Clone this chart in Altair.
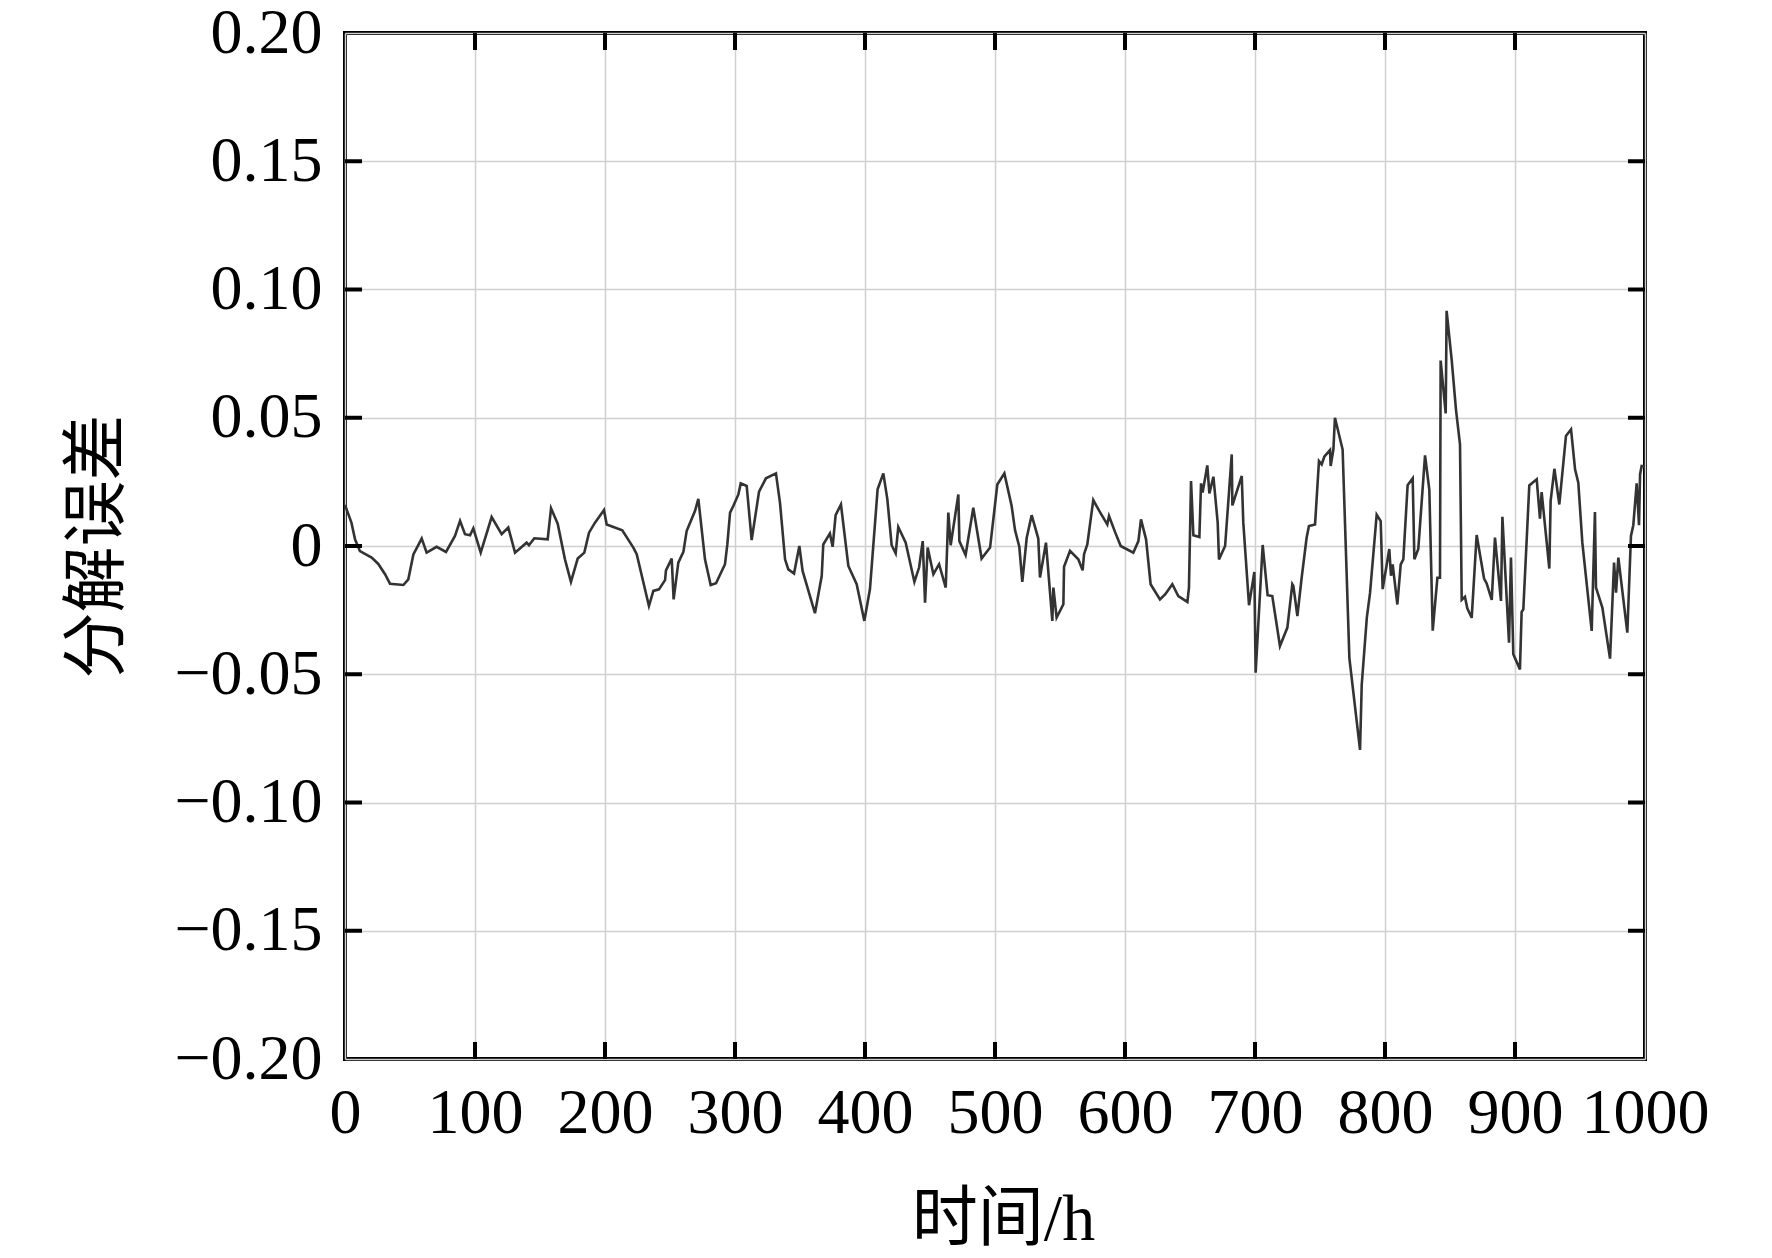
import altair as alt
import pandas as pd

# time (h) and decomposition error
hours = [0, 5, 7.7, 11.5, 20.5, 25.6, 30.8, 34.6, 44.9, 48.7, 52.6, 59, 62.8, 70.5, 77.7, 84.6, 88.5, 92.3,
         96.2, 98.7, 104.4, 112.8, 120.5, 125.6,
         130.8, 139.7, 141.5, 145.6, 155.9, 158.5, 163.6, 169.2, 173.8, 179, 184.1, 187.7, 192.3, 199.2,
         201.3, 213.3, 221.8, 224.4, 233.8, 237.2, 241.5, 246.2, 246.9, 251.3, 252.8,
         256.4, 260.3, 262.8, 269.2, 271.8, 276.9, 281.3, 285.4, 292.3, 294.1, 296.2, 298.7, 302.6, 304.4,
         309, 312.8, 318.5, 323.8, 331.5, 334.6, 338.5, 341, 345.4, 349.5, 352, 361.5, 366.7, 367.9, 373,
         375.1, 377.4, 381.5,
         387.2, 393.6, 399.5, 403.8, 409.7, 414.1, 417.2, 420.5, 423.6, 425.6, 431.3, 438, 441.6, 444.4,
         446.2, 448.2, 452.6, 457, 462.1, 464.1, 465.9, 471.8, 472.6, 477.4, 483.3, 489.7, 496.2, 501.8, 507.2,
         512.8, 515.4, 518.7, 521, 524.4, 528.2, 533.3, 534.6, 539.2, 544.1, 544.9, 547.4, 552.6, 553.1,
         557.7, 564.1, 567.4, 568.5, 571, 575.6, 580.3, 586.4, 587.7, 592.3, 596.7, 606.4, 610.3, 612.3,
         616.2, 619.7, 626.9,
         631, 636.4, 641, 648, 649.2, 650.8, 652.6, 657.2, 658.5, 659.7, 663.3, 664.9, 668, 671.3, 672.3,
         677, 682.1, 682.6, 689.8, 691, 695.4, 699.5, 700.5, 705.9, 709.7, 713.3, 719.2, 724.9, 728.7,
         729.5, 732.6, 735.9, 739.7, 741.5, 746.2, 749.2, 751.3, 753.3, 757.7, 758.2, 760.3, 761.5,
         767.4, 772.6, 780.8, 782.1, 786, 788.5, 793.6, 796.7, 798.2, 803.3, 804.6, 805.9, 809.5, 812.1,
         814.1, 817.4, 821.3, 822.6, 825.6, 830.8, 834.1, 836.7, 840.3, 842.3, 842.8, 846.7, 847.4, 851.3,
         854.6, 857.7, 859, 861.5, 863.3, 866.7, 870.5, 876.2, 878.2, 882.1, 884.6,
         889.2, 890.3, 895.4, 896.9, 898.7, 903.8, 905.1, 906.4, 911, 916.7, 919.2, 920.5, 926.4, 927.4,
         930.3, 934.1, 939.2, 943.1, 946.2, 948.7, 951.8, 959, 961.5, 962.3, 967.2, 973.1, 976.2, 977.7,
         979.5, 986.4, 989.2, 991, 993.6, 995.4, 996.2, 997.4, 1000]

errors = [0.016, 0.009, 0.0026, -0.002, -0.0045, -0.007, -0.011, -0.0147, -0.0152, -0.013, -0.0033, 0.0029,
          -0.0026, -0.0003, -0.0023, 0.0039, 0.0098, 0.0046, 0.0042, 0.0069, -0.0026, 0.0113, 0.0046, 0.0072,
          -0.0026, 0.0013, 0.0003, 0.003, 0.0026, 0.0147, 0.0087, -0.0052, -0.014, -0.0049, -0.0026, 0.0052,
          0.0091, 0.014, 0.0084, 0.0061, -0.0006, -0.0032, -0.0234, -0.0175, -0.0169, -0.0133, -0.0095,
          -0.0049, -0.0208,
          -0.0065, -0.0023, 0.0058, 0.0136, 0.0184, -0.0052, -0.0152, -0.0145, -0.0071, 0.0006, 0.013,
          0.0156, 0.0201, 0.0244, 0.0234, 0.0023, 0.0212, 0.0264, 0.0283, 0.0169, -0.0052, -0.0091, -0.0107,
          0.0, -0.0097, -0.0262, -0.0117, 0.0006, 0.0049, -0.0003, 0.012, 0.0162,
          -0.0078, -0.0149, -0.0292, -0.0169, 0.0221, 0.0283, 0.0182, 0.0003, -0.0029, 0.0074, 0.0013,
          -0.014, -0.0084, 0.0019, -0.0221, -0.0006, -0.011, -0.0071, -0.0162, 0.013, 0.0003, 0.0201, 0.0019,
          -0.0035, 0.0149, -0.0049, -0.0006, 0.024, 0.0283,
          0.0156, 0.0062, -0.0003, -0.014, 0.0032, 0.012, 0.0029, -0.0123, 0.0013, -0.0292, -0.0162, -0.0279,
          -0.0227, -0.0081, -0.0019, -0.0052, -0.0095, -0.0032, 0.0006, 0.0179, 0.0136, 0.0084, 0.0117,
          0.0055, 0.0, -0.0026, 0.0019, 0.0104, 0.0026, -0.0149, -0.0208,
          -0.0188, -0.0149, -0.0195, -0.0218, -0.0162, 0.0253, 0.0042, 0.0035, 0.0244, 0.0208, 0.0314,
          0.0205, 0.027, 0.0091, -0.0052, 0.0, 0.0357, 0.0158, 0.0273, 0.0091, -0.0231, -0.0101, -0.0494,
          0.0004, -0.0192, -0.0195, -0.039, -0.0318, -0.0149, -0.0156, -0.0273, -0.0123, 0.0032, 0.0078,
          0.0084, 0.0331, 0.0318, 0.0348, 0.0374, 0.0312, 0.0377, 0.05,
          0.0376, -0.0437, -0.0795, -0.0541, -0.028, -0.0183, 0.0122, 0.0097, -0.0168, -0.0012, -0.0116,
          -0.0072, -0.0228, -0.0072, -0.0052, 0.0237, 0.0264, -0.0052, -0.0012, 0.0353, 0.0219, -0.033,
          -0.0124, -0.0124, 0.0723, 0.0517, 0.0917, 0.0726, 0.0532, 0.0395, -0.021, -0.0198, -0.0243,
          -0.028, 0.0043, -0.0127, -0.0146, -0.021, 0.0033,
          -0.0214, 0.0114, -0.0377, -0.0045, -0.0422, -0.0481, -0.0257, -0.0247, 0.0236, 0.026, 0.0107,
          0.021, -0.0088, 0.0175, 0.0301, 0.0162, 0.0429, 0.0455, 0.0299, 0.0247, 0.0013, -0.0331, 0.0132,
          -0.0162, -0.024, -0.0439, -0.0065, -0.0182, -0.0045, -0.0338, 0.0039, 0.0081, 0.0244, 0.0081,
          0.0279, 0.0312, 0.031]

x_ticks = [0, 100, 200, 300, 400, 500, 600, 700, 800, 900, 1000]
y_ticks = [-0.2, -0.15, -0.1, -0.05, 0, 0.05, 0.1, 0.15, 0.2]

x_title = "时间/h"
y_title = "分解误差"

W, H = 1300, 1026
TICK = 17
FONT = "'Liberation Serif', 'Times New Roman', 'Noto Sans CJK SC', serif"

df = pd.DataFrame({"t": hours, "e": errors})
xt = pd.DataFrame({"t": x_ticks[1:-1]})
yt = pd.DataFrame({"e": y_ticks[1:-1]})

xscale = alt.Scale(domain=[0, 1000], nice=False, zero=False)
yscale = alt.Scale(domain=[-0.2, 0.2], nice=False, zero=False)

line = alt.Chart(df).mark_line(color="#333333", strokeWidth=2.6).encode(
    x=alt.X("t:Q", scale=xscale,
            axis=alt.Axis(values=x_ticks, format="d", title=x_title,
                          titleX=W / 2 + 8, titleY=160, titleBaseline="middle",
                          titleFontSize=66, labelPadding=22)),
    y=alt.Y("e:Q", scale=yscale,
            axis=alt.Axis(values=y_ticks, title=y_title,
                          labelExpr="datum.value == 0 ? '0' : format(datum.value, '.2f')",
                          titleX=-248, titleY=H / 2, titleBaseline="middle", titleAngle=-90,
                          titleFontSize=66, labelPadding=23)),
)

rule_style = dict(color="black", strokeWidth=4)

bottom = alt.Chart(xt).mark_rule(**rule_style).encode(
    x=alt.X("t:Q", scale=xscale), y=alt.value(H), y2=alt.value(H - TICK))
top = alt.Chart(xt).mark_rule(**rule_style).encode(
    x=alt.X("t:Q", scale=xscale), y=alt.value(0), y2=alt.value(TICK))
left = alt.Chart(yt).mark_rule(**rule_style).encode(
    y=alt.Y("e:Q", scale=yscale), x=alt.value(0), x2=alt.value(TICK))
right = alt.Chart(yt).mark_rule(**rule_style).encode(
    y=alt.Y("e:Q", scale=yscale), x=alt.value(W), x2=alt.value(W - TICK))

chart = alt.layer(line, bottom, top, left, right).properties(
    width=W, height=H,
    autosize=alt.AutoSizeParams(type="none"),
    padding={"left": 337, "top": 25, "right": 100, "bottom": 196},
    background="white",
).configure_view(
    stroke="black", strokeWidth=4
).configure_axis(
    grid=True, gridColor="#d0d0d0", gridWidth=1.5,
    ticks=False, tickSize=0, domain=False,
    labelFont=FONT, labelFontSize=64, labelColor="black",
    labelFlush=False, labelOverlap=False, labelBound=False,
    titleFont=FONT, titleColor="black", titleFontWeight="normal",
)

chart.save("out.html", embed_options={"renderer": "svg", "actions": False})
